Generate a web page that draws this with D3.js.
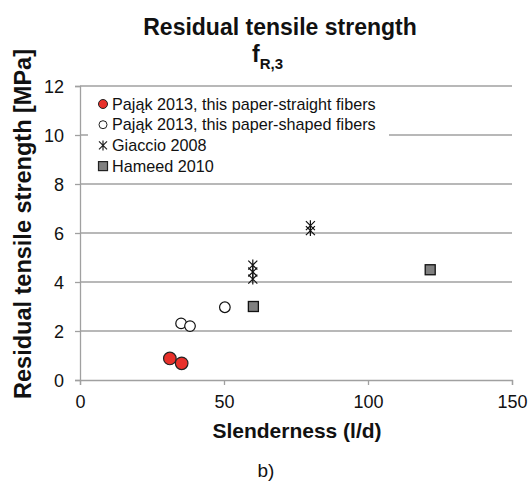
<!DOCTYPE html>
<html>
<head>
<meta charset="utf-8">
<script src="https://cdn.jsdelivr.net/npm/d3@7"></script>
<style>
  body { margin: 0; background: #fff; }
  text { font-family: "Liberation Sans", Arial, sans-serif; }
</style>
</head>
<body>
<div id="chart"></div>
<script>
// data
straightX = [31.2, 35.3]
straightY = [0.88, 0.68]
shapedX = [35.1, 38.2, 50.3]
shapedY = [2.31, 2.2, 2.97]
giaccioX = [60, 60, 60, 80, 80]
giaccioY = [4.12, 4.41, 4.69, 6.1, 6.3]
hameedX = [60.2, 121.6]
hameedY = [3.0, 4.5]
xTicks = [0, 50, 100, 150]
yTicks = [0, 2, 4, 6, 8, 10, 12]
legendLabels = ["Pająk 2013, this paper-straight fibers", "Pająk 2013, this paper-shaped fibers", "Giaccio 2008", "Hameed 2010"]

margin = {top: 86, right: 18, bottom: 101, left: 80},
  width = 530 - margin.left - margin.right,
  height = 481 - margin.top - margin.bottom;

root = d3.select("#chart")
  .append("svg")
  .attr("width", 530)
  .attr("height", 481)

svg = root.append("g")
  .attr("transform", `translate(${margin.left}, ${margin.top})`);

x = d3.scaleLinear().domain([0, 150]).range([0, width])
y = d3.scaleLinear().domain([0, 12]).range([height, 0])

gridColor = "#a0a0a0"

// gridlines
svg.selectAll(".grid")
  .data(yTicks.filter(d => d > 0))
  .join("line")
    .attr("x1", 0).attr("x2", width)
    .attr("y1", d => y(d)).attr("y2", d => y(d))
    .style("stroke", gridColor)
    .style("stroke-width", 1.3)

// axes
xAxis = svg.append("g")
  .attr("transform", `translate(0, ${height})`)
  .call(d3.axisBottom(x).tickValues(xTicks).tickSize(5).tickPadding(6))
yAxis = svg.append("g")
  .call(d3.axisLeft(y).tickValues(yTicks).tickSize(5).tickPadding(11))
;[xAxis, yAxis].forEach(a => {
  a.select(".domain").style("stroke", gridColor).style("stroke-width", 1.3)
  a.selectAll(".tick line").style("stroke", gridColor).style("stroke-width", 1.3)
  a.selectAll(".tick text")
    .style("font-family", "'Liberation Sans', Arial, sans-serif")
    .style("font-size", "18px")
    .style("fill", "#111")
})
yAxis.selectAll(".tick text").attr("dy", "0.36em")
xAxis.selectAll(".tick text").attr("dy", "0.95em")

// legend box (white, covers the gridline)
legend = svg.append("g")
legend.append("rect")
  .attr("x", 8).attr("y", 7)
  .attr("width", 301).attr("height", 84)
  .style("fill", "#fff")

starPath = function(s) {
  h = s / 2
  return `M${-h},${-h}L${h},${h}M${-h},${h}L${h},${-h}M0,${-h - 1}L0,${h + 1}`
}

legendItems = legend.selectAll(".item")
  .data(legendLabels)
  .join("g")
    .attr("transform", (d, i) => `translate(23, ${18 + i * 20.7})`)
legendItems.append("text")
  .attr("x", 9).attr("y", 0).attr("dy", "0.35em")
  .style("font-size", "16.2px")
  .style("fill", "#111")
  .text(d => d)
legendItems.each(function(d, i) {
  g = d3.select(this)
  if (i == 0) g.append("circle").attr("r", 4.5).style("fill", "#e8302a").style("stroke", "#222").style("stroke-width", 1)
  if (i == 1) g.append("circle").attr("r", 4).style("fill", "#fff").style("stroke", "#222").style("stroke-width", 1)
  if (i == 2) g.append("path").attr("d", starPath(8)).style("stroke", "#222").style("stroke-width", 1.2).style("fill", "none")
  if (i == 3) g.append("rect").attr("x", -4.5).attr("y", -4.5).attr("width", 9).attr("height", 9)
    .style("fill", "#808080").style("stroke", "#222").style("stroke-width", 1.2)
})

// points
svg.selectAll(".hameed")
  .data(hameedX.map((v, i) => ({x: v, y: hameedY[i]})))
  .join("rect")
    .attr("x", d => x(d.x) - 5).attr("y", d => y(d.y) - 5)
    .attr("width", 10).attr("height", 10)
    .style("fill", "#808080").style("stroke", "#111").style("stroke-width", 1.3)

svg.selectAll(".giaccio")
  .data(giaccioX.map((v, i) => ({x: v, y: giaccioY[i]})))
  .join("path")
    .attr("transform", d => `translate(${x(d.x)}, ${y(d.y)})`)
    .attr("d", starPath(9))
    .style("stroke", "#111").style("stroke-width", 1.2).style("fill", "none")

svg.selectAll(".shaped")
  .data(shapedX.map((v, i) => ({x: v, y: shapedY[i]})))
  .join("circle")
    .attr("cx", d => x(d.x)).attr("cy", d => y(d.y))
    .attr("r", 5.3)
    .style("fill", "#fff").style("stroke", "#111").style("stroke-width", 1.2)

svg.selectAll(".straight")
  .data(straightX.map((v, i) => ({x: v, y: straightY[i]})))
  .join("circle")
    .attr("cx", d => x(d.x)).attr("cy", d => y(d.y))
    .attr("r", 6.3)
    .style("fill", "#e8302a").style("stroke", "#222").style("stroke-width", 1.2)

// titles
title = root.append("text")
  .attr("x", 280).attr("y", 35)
  .attr("text-anchor", "middle")
  .style("font-size", "23px").style("font-weight", "bold").style("fill", "#111")
  .text("Residual tensile strength")
sub = root.append("text")
  .attr("x", 252).attr("y", 62)
  .style("font-size", "23px").style("font-weight", "bold").style("fill", "#111")
sub.append("tspan").text("f")
sub.append("tspan").attr("dy", 7).style("font-size", "15px").text("R,3")

root.append("text")
  .attr("transform", "translate(31, 224) rotate(-90)")
  .attr("text-anchor", "middle")
  .style("font-size", "23.5px").style("font-weight", "bold").style("fill", "#111")
  .text("Residual tensile strength [MPa]")

root.append("text")
  .attr("x", 297).attr("y", 438)
  .attr("text-anchor", "middle")
  .style("font-size", "21px").style("font-weight", "bold").style("fill", "#111")
  .text("Slenderness (l/d)")

root.append("text")
  .attr("x", 266).attr("y", 477)
  .attr("text-anchor", "middle")
  .style("font-size", "19px").style("fill", "#111")
  .text("b)")
</script>
</body>
</html>
